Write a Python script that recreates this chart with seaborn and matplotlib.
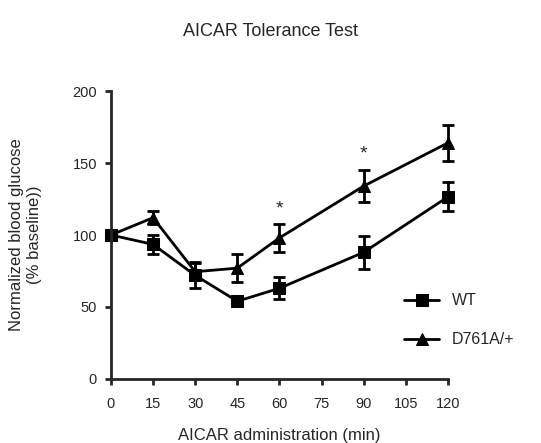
import numpy as np
import pandas as pd
import seaborn as sns
from matplotlib import pyplot as plt

# данные
time_min = [0, 15, 30, 45, 60, 90, 120]
wt_mean = [100, 93.5, 72, 54, 63, 88, 126.5]
wt_sem = [2, 6.5, 9, 3.5, 7.5, 11.5, 10]
mut_mean = [100, 112, 74.5, 77, 98, 134, 164]
mut_sem = [2, 4.5, 6, 9.5, 9.5, 11, 12.5]
star_x = [60, 90]
star_y = [118, 156]
x_ticks = [0, 15, 30, 45, 60, 75, 90, 105, 120]
y_ticks = [0, 50, 100, 150, 200]

df = pd.DataFrame({
    'time': time_min * 2,
    'glucose': wt_mean + mut_mean,
    'sem': wt_sem + mut_sem,
    'genotype': ['WT'] * len(time_min) + ['D761A/+'] * len(time_min),
})

sns.set_style('ticks')
plt.rcParams['font.family'] = ['Liberation Sans', 'DejaVu Sans']

fig = plt.figure(figsize=(5.41, 4.43), dpi=100)
ax = fig.add_axes([0.205, 0.1445, 0.623, 0.65])

sns.lineplot(data=df, x='time', y='glucose', hue='genotype', style='genotype',
             markers={'WT': 's', 'D761A/+': '^'}, dashes=False,
             palette={'WT': 'black', 'D761A/+': 'black'},
             markersize=9, linewidth=2, markeredgecolor='black', ax=ax)

for g, sub in df.groupby('genotype'):
    eb = ax.errorbar(sub['time'], sub['glucose'], yerr=sub['sem'], fmt='none',
                     ecolor='black', elinewidth=2, capsize=4, capthick=2)
    for art in eb.get_children():
        art.set_clip_on(False)
for line in ax.lines:
    line.set_clip_on(False)

for x, y in zip(star_x, star_y):
    ax.text(x, y, '*', ha='center', va='center', fontsize=14)

ax.set_xlim(0, 120)
ax.set_ylim(0, 200)
ax.set_xticks(x_ticks)
ax.set_yticks(y_ticks)
ax.tick_params(width=2, length=4, labelsize=10.5)
ax.tick_params(axis='x', pad=9)
ax.tick_params(axis='y', pad=6)
for s in ['left', 'bottom']:
    ax.spines[s].set_linewidth(2)
sns.despine(ax=ax)

ax.set_xlabel('AICAR administration (min)', fontsize=12, labelpad=12)
ax.set_ylabel('Normalized blood glucose\n(% baseline))', fontsize=12, labelpad=22)
fig.text(0.5, 0.93, 'AICAR Tolerance Test', ha='center', va='center', fontsize=13)

h, l = ax.get_legend_handles_labels()
ax.legend(h, l, loc='lower right', bbox_to_anchor=(1.24, 0.06), frameon=False,
          fontsize=11.5, handlelength=2.2, labelspacing=1.5)

fig.savefig('out.png', dpi=100)
